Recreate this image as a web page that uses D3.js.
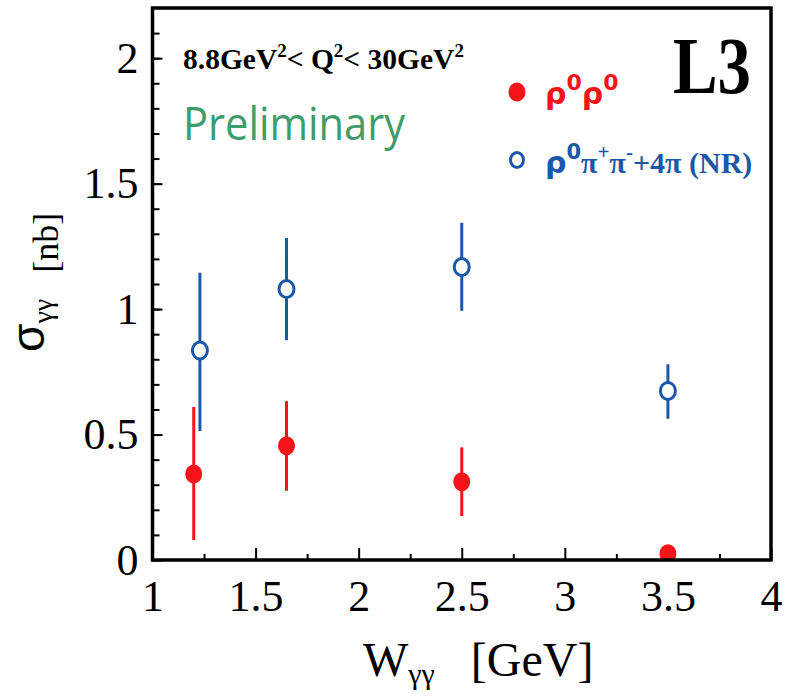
<!DOCTYPE html>
<html>
  <head>
    <meta charset="UTF-8">
    <title>L3 sigma gamma gamma</title>
  </head>
  <style type="text/css">
    body { margin: 0; background: #fff; }
    .tick text { font-family: "Liberation Serif", serif; font-size: 44px; fill: #000; }
    .tick line { stroke: #000; stroke-width: 2; }
    .domain { display: none; }
  </style>
  <body>
    <svg width="790" height="699"></svg>
  </body>
  <script src="https://d3js.org/d3.v7.min.js"></script>
  <script type="text/javascript">
    // rho0 rho0 (red, filled)
    let wRho = [1.20, 1.65, 2.50, 3.50];
    let sigRho = [0.343, 0.455, 0.312, 0.025];
    let loRho = [0.08, 0.276, 0.175, null];
    let hiRho = [0.61, 0.633, 0.449, null];

    // rho0 pi+ pi- + 4pi (NR) (blue, open)
    let wPi = [1.23, 1.65, 2.50, 3.50];
    let sigPi = [0.835, 1.08, 1.168, 0.674];
    let loPi = [0.514, 0.876, 0.993, 0.563];
    let hiPi = [1.145, 1.283, 1.344, 0.78];

    let xMajor = [1, 1.5, 2, 2.5, 3, 3.5, 4];
    let yMajor = [0, 0.5, 1, 1.5, 2];

    const red = '#f5141a', blue = '#1c58a8';

    let svg = d3.select('svg');
    let x = d3.scaleLinear().domain([1, 4]).range([152.5, 771]);
    let y = d3.scaleLinear().domain([0, 2.2]).range([560, 8]);

    // minor ticks
    svg.append('g')
        .attr('transform', 'translate(0,' + y(0) + ')')
        .call(d3.axisBottom(x).tickValues(d3.range(1.25, 4, 0.5)).tickSize(-6).tickFormat(''));
    svg.append('g')
        .attr('transform', 'translate(' + x(1) + ',0)')
        .call(d3.axisLeft(y).tickValues(d3.range(0.1, 2.2, 0.1)).tickSize(-7).tickFormat(''));

    // major ticks with labels
    svg.append('g')
        .attr('transform', 'translate(0,' + y(0) + ')')
        .call(d3.axisBottom(x).tickValues(xMajor).tickSize(-12).tickPadding(20).tickFormat(d => d));
    svg.append('g')
        .attr('transform', 'translate(' + x(1) + ',0)')
        .call(d3.axisLeft(y).tickValues(yMajor).tickSize(-10).tickPadding(14).tickFormat(d => d));

    svg.append('clipPath').attr('id', 'plot')
      .append('rect')
        .attr('x', x(1)).attr('y', y(2.2))
        .attr('width', x(4) - x(1)).attr('height', y(0) - y(2.2));

    let g = svg.append('g').attr('clip-path', 'url(#plot)');

    const series = [
      { w: wRho, s: sigRho, lo: loRho, hi: hiRho, color: red, open: false },
      { w: wPi, s: sigPi, lo: loPi, hi: hiPi, color: blue, open: true }
    ];

    series.forEach(sr => {
      let pts = sr.w.map((w, i) => ({ w: w, s: sr.s[i], lo: sr.lo[i], hi: sr.hi[i] }));
      g.selectAll(null)
        .data(pts.filter(d => d.lo !== null))
        .enter().append('line')
          .attr('x1', d => x(d.w)).attr('x2', d => x(d.w))
          .attr('y1', d => y(d.lo)).attr('y2', d => y(d.hi))
          .attr('stroke', sr.color)
          .attr('stroke-width', 3);
      g.selectAll(null)
        .data(pts)
        .enter().append('ellipse')
          .attr('cx', d => x(d.w)).attr('cy', d => y(d.s))
          .attr('rx', sr.open ? 7.5 : 8.5).attr('ry', sr.open ? 8.5 : 9.5)
          .attr('fill', sr.open ? '#fff' : sr.color)
          .attr('stroke', sr.open ? sr.color : 'none')
          .attr('stroke-width', 3);
    });

    // frame
    svg.append('rect')
        .attr('x', x(1)).attr('y', y(2.2))
        .attr('width', x(4) - x(1)).attr('height', y(0) - y(2.2))
        .attr('fill', 'none').attr('stroke', '#000').attr('stroke-width', 3.5);

    // Q2 range
    let q = svg.append('text')
        .attr('x', 183).attr('y', 69)
        .style('font', 'bold 29.5px "Liberation Serif", serif');
    q.append('tspan').text('8.8GeV');
    q.append('tspan').attr('dy', -12).style('font-size', '19px').text('2');
    q.append('tspan').attr('dy', 12).text('< Q');
    q.append('tspan').attr('dy', -12).style('font-size', '19px').text('2');
    q.append('tspan').attr('dy', 12).text('< 30GeV');
    q.append('tspan').attr('dy', -12).style('font-size', '19px').text('2');

    svg.append('text')
        .attr('x', 183).attr('y', 140)
        .attr('textLength', 222).attr('lengthAdjust', 'spacingAndGlyphs')
        .style('font', '46px "Open Sans", sans-serif')
        .attr('fill', '#3f9c6c')
        .text('Preliminary');

    svg.append('text')
        .attr('x', 673).attr('y', 93)
        .attr('textLength', 78).attr('lengthAdjust', 'spacingAndGlyphs')
        .style('font', 'bold 80px "Liberation Serif", serif')
        .text('L3');

    // legend
    svg.append('ellipse')
        .attr('cx', 517).attr('cy', 92).attr('rx', 8.5).attr('ry', 9.5)
        .attr('fill', red);
    let l1 = svg.append('text')
        .attr('x', 545).attr('y', 104)
        .attr('fill', red)
        .style('font', 'bold 30px "DejaVu Sans", sans-serif');
    l1.append('tspan').text('ρ');
    l1.append('tspan').attr('dy', -14).style('font-size', '22px').text('0');
    l1.append('tspan').attr('dy', 14).text('ρ');
    l1.append('tspan').attr('dy', -14).style('font-size', '22px').text('0');

    svg.append('ellipse')
        .attr('cx', 517).attr('cy', 160).attr('rx', 6.5).attr('ry', 7.5)
        .attr('fill', '#fff').attr('stroke', blue).attr('stroke-width', 3);
    let l2 = svg.append('text')
        .attr('x', 545).attr('y', 173)
        .attr('fill', blue)
        .style('font', 'bold 30px "Liberation Serif", serif');
    l2.append('tspan').style('font-family', '"DejaVu Sans", sans-serif').text('ρ');
    l2.append('tspan').attr('dy', -14).style('font-size', '21px').style('font-family', '"DejaVu Sans", sans-serif').text('0');
    l2.append('tspan').attr('dy', 14).text('π');
    l2.append('tspan').attr('dy', -14).style('font-size', '21px').text('+');
    l2.append('tspan').attr('dy', 14).text('π');
    l2.append('tspan').attr('dy', -14).style('font-size', '21px').text('-');
    l2.append('tspan').attr('dy', 14).text('+4π (NR)');

    // x title
    let xt = svg.append('text')
        .attr('x', 363).attr('y', 676)
        .style('font', '48px "Liberation Serif", serif');
    xt.append('tspan').text('W');
    xt.append('tspan').attr('dy', 8).style('font-size', '30px').text('γγ');
    xt.append('tspan').attr('dy', -8).attr('dx', 36).text('[GeV]');

    // y title
    let yt = svg.append('text')
        .attr('transform', 'translate(44,352) rotate(-90)')
        .style('font', '46px "Liberation Sans", sans-serif');
    yt.append('tspan').text('σ');
    yt.append('tspan').attr('dy', 8).style('font-size', '28px').style('font-family', '"Liberation Serif", serif').text('γγ');
    yt.append('tspan').attr('dy', 6).attr('dx', 26).style('font', '36px "Liberation Serif", serif').text('[nb]');
  </script>
</html>
